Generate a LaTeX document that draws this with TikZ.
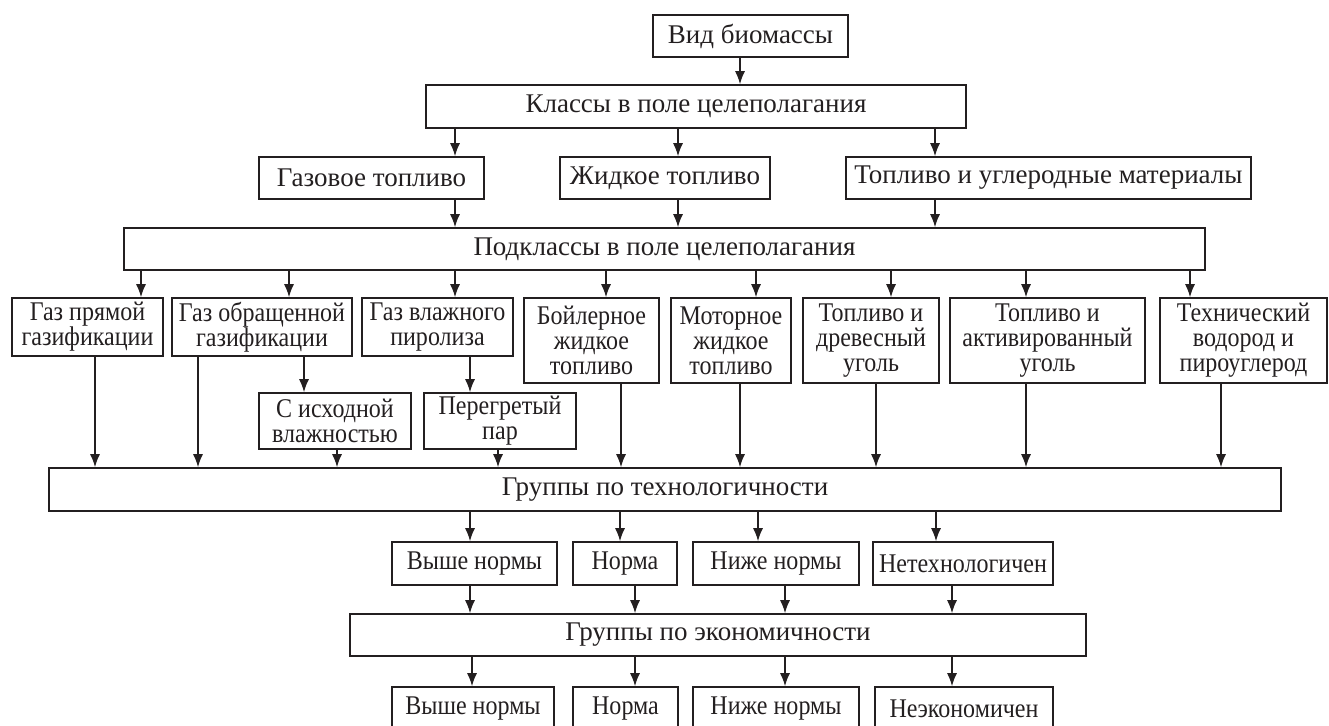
\documentclass[tikz,border=0pt]{standalone}
\usepackage{fontspec}
\setmainfont{Liberation Serif}
\newfontfamily\slimfont[FakeStretch=0.89]{Liberation Serif}
\usetikzlibrary{arrows.meta}
\definecolor{ink}{RGB}{35,31,32}
\tikzset{
  box/.style={draw=ink, line width=0.8pt, inner sep=1pt, align=center, text=ink,
    font=\fontsize{13.5}{12.5}\selectfont},
  slim/.style={font=\slimfont\fontsize{13.5}{12.5}\selectfont},
  arr/.style={draw=ink, line width=0.7pt, -{Latex[length=6.5pt,width=5pt]}}
}
% box between corners (#3,#4) and (#5,#6), in pixels
\newcommand{\blk}[7][]{\node[box, #1, minimum width={(#5-#3)*0.5pt}, minimum height={(#6-#4)*0.5pt}]
  (#2) at ({(#3+#5)/2},{(#4+#6)/2}) {#7};}

\begin{document}
\begin{tikzpicture}[x=0.5pt,y=-0.5pt]
\useasboundingbox (0,0) rectangle (1329,725);

\blk{vid}{653}{15}{848}{57}{Вид биомассы}
\blk{klass}{426}{85}{966}{128}{Классы в поле целеполагания}

\blk{gaz}{259}{157}{484}{199}{Газовое топливо}
\blk{zhid}{560}{157}{770}{199}{Жидкое топливо}
\blk{tverd}{846}{157}{1251}{199}{Топливо и углеродные материалы}

\blk{podkl}{124}{228}{1205}{270}{Подклассы в поле целеполагания}

\blk[slim]{pr}{12}{298}{163}{356}{Газ прямой\\газификации}
\blk[slim]{obr}{172}{298}{352}{356}{Газ обращенной\\газификации}
\blk[slim]{vl}{362}{298}{513}{356}{Газ влажного\\пиролиза}
\blk[slim]{boil}{524}{298}{659}{383}{Бойлерное\\жидкое\\топливо}
\blk[slim]{mot}{671}{298}{791}{383}{Моторное\\жидкое\\топливо}
\blk[slim]{drev}{803}{298}{939}{383}{Топливо и\\древесный\\уголь}
\blk[slim]{akt}{950}{298}{1145}{383}{Топливо и\\активированный\\уголь}
\blk[slim]{vod}{1160}{298}{1327}{383}{Технический\\водород и\\пироуглерод}

\blk[slim]{isx}{259}{393}{411}{449}{С исходной\\влажностью}
\blk[slim]{par}{424}{393}{576}{449}{Перегретый\\пар}

\blk{tech}{49}{468}{1281}{511}{Группы по технологичности}

\blk[slim]{t1}{392}{542}{557}{585}{Выше нормы}
\blk[slim]{t2}{573}{542}{677}{585}{Норма}
\blk[slim]{t3}{693}{542}{859}{585}{Ниже нормы}
\blk[slim]{t4}{873}{542}{1053}{585}{Нетехнологичен}

\blk{econ}{350}{614}{1086}{656}{Группы по экономичности}

\blk[slim]{e1}{392}{687}{554}{730}{Выше нормы}
\blk[slim]{e2}{573}{687}{678}{730}{Норма}
\blk[slim]{e3}{693}{687}{859}{730}{Ниже нормы}
\blk[slim]{e4}{875}{687}{1053}{730}{Неэкономичен}

% connectors
\foreach \x/\a/\b in {740/vid/klass,
    455/klass/gaz, 678/klass/zhid, 935/klass/tverd,
    455/gaz/podkl, 678/zhid/podkl, 935/tverd/podkl,
    141/podkl/pr, 289/podkl/obr, 455/podkl/vl, 606/podkl/boil,
    756/podkl/mot, 891/podkl/drev, 1026/podkl/akt, 1190/podkl/vod,
    304/obr/isx, 470/vl/par,
    95/pr/tech, 198/obr/tech, 337/isx/tech, 498/par/tech, 621/boil/tech,
    740/mot/tech, 876/drev/tech, 1026/akt/tech, 1221/vod/tech,
    470/tech/t1, 620/tech/t2, 758/tech/t3, 936/tech/t4,
    470/t1/econ, 635/t2/econ, 785/t3/econ, 952/t4/econ,
    472/econ/e1, 635/econ/e2, 785/econ/e3, 952/econ/e4}
  \draw[arr] (\x,0 |- \a.south) -- (\x,0 |- \b.north);
\end{tikzpicture}
\end{document}
